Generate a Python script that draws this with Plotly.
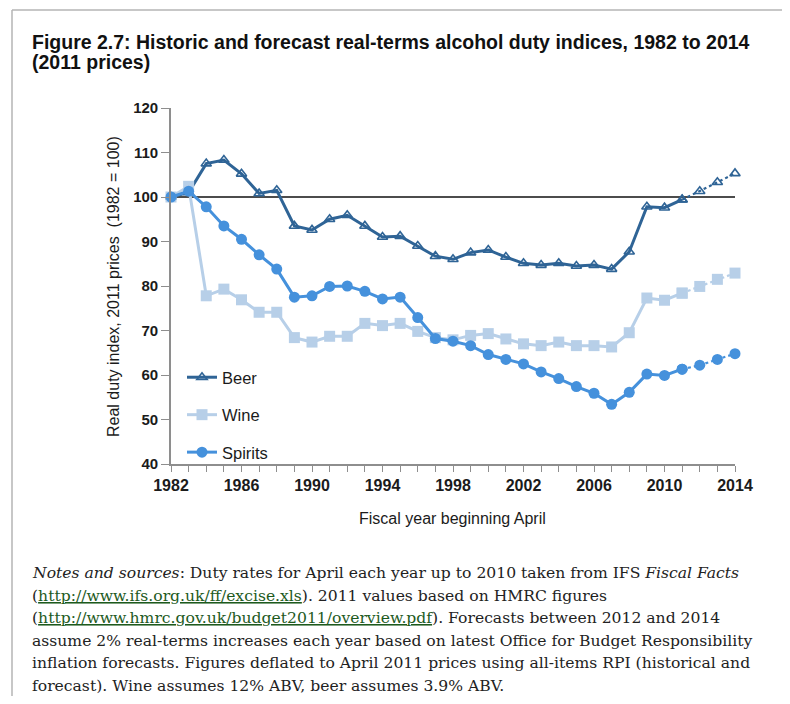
import plotly.graph_objects as go

# ---------------- data ----------------
years = list(range(1982, 2015))
beer = [100, 101.0, 107.5, 108.3, 105.2, 100.8, 101.5, 93.5, 92.6, 95.0, 95.9,
        93.5, 91.0, 91.2, 89.0, 86.7, 86.0, 87.5, 88.1, 86.5, 85.1, 84.7, 85.1,
        84.5, 84.7, 83.8, 87.7, 97.8, 97.6, 99.4, 101.3, 103.3, 105.3]
wine = [100, 102.4, 77.8, 79.3, 76.9, 74.1, 74.1, 68.4, 67.4, 68.7, 68.7,
        71.6, 71.1, 71.6, 69.8, 68.4, 67.9, 68.9, 69.3, 68.1, 67.0, 66.6, 67.4,
        66.6, 66.6, 66.3, 69.5, 77.3, 76.8, 78.4, 79.9, 81.5, 82.9]
spirits = [100, 101.3, 97.8, 93.5, 90.5, 87.0, 83.8, 77.5, 77.8, 79.9, 80.0,
           78.8, 77.1, 77.5, 72.9, 68.2, 67.6, 66.6, 64.6, 63.5, 62.5, 60.7, 59.2,
           57.4, 55.9, 53.4, 56.1, 60.2, 59.9, 61.3, 62.2, 63.5, 64.8]
last_actual_year = 2011
x_ticks = list(range(1982, 2015))
x_labels = [str(y) if (y - 1982) % 4 == 0 else "" for y in x_ticks]
y_ticks = [40, 50, 60, 70, 80, 90, 100, 110, 120]

title_lines = ["Figure 2.7: Historic and forecast real-terms alcohol duty indices, 1982 to 2014",
               "(2011 prices)"]
LINK = '<span style="color:#1d5a1d;text-decoration:underline">{}</span>'
note_lines = [
    "<i>Notes and sources</i>: Duty rates for April each year up to 2010 taken from IFS <i>Fiscal Facts</i>",
    "(" + LINK.format("http://www.ifs.org.uk/ff/excise.xls") + "). 2011 values based on HMRC figures",
    "(" + LINK.format("http://www.hmrc.gov.uk/budget2011/overview.pdf") + "). Forecasts between 2012 and 2014",
    "assume 2% real-terms increases each year based on latest Office for Budget Responsibility",
    "inflation forecasts. Figures deflated to April 2011 prices using all-items RPI (historical and",
    "forecast). Wine assumes 12% ABV, beer assumes 3.9% ABV.",
]

# ---------------- layout constants ----------------
# the page body has an 8px margin; work in screenshot coordinates and convert
OFF = 8
W, H = 782, 688
L, T = 171 - OFF, 108 - OFF
R = W - (735 - OFF)
B = H - (464 - OFF)
PW, PH = W - L - R, H - T - B


def px(xs):
    return (xs - OFF - L) / PW


def py(ys):
    return (H - B - (ys - OFF)) / PH


C_BEER = "#2f6496"
C_WINE = "#b7cfe8"
C_SPIR = "#4591dc"
TXT = "#1b1b1b"
AX = "#8e8e8e"

fig = go.Figure()

k = years.index(last_actual_year)
series = [
    ("Beer", beer, C_BEER, dict(symbol="triangle-up-open", size=9, line=dict(width=1.6, color=C_BEER))),
    ("Wine", wine, C_WINE, dict(symbol="square", size=11)),
    ("Spirits", spirits, C_SPIR, dict(symbol="circle", size=11)),
]
for name, vals, col, mk in series:
    fig.add_trace(go.Scatter(
        x=years[:k + 1], y=vals[:k + 1], mode="lines+markers", name=name,
        legendgroup=name, line=dict(color=col, width=3),
        marker=dict(color=col, **mk), cliponaxis=False))
    fig.add_trace(go.Scatter(
        x=years[k:], y=vals[k:], mode="lines+markers", name=name + " forecast",
        legendgroup=name, showlegend=False, line=dict(color=col, width=2.2, dash="dot"),
        marker=dict(color=col, **mk), cliponaxis=False))

# baseline at 100
fig.add_shape(type="line", xref="x", yref="y", x0=1982, x1=2014, y0=100, y1=100,
              line=dict(color="#111111", width=1.6), layer="below")

# page border (top and left)
fig.add_shape(type="line", xref="paper", yref="paper", x0=px(12), x1=px(800), y0=py(10), y1=py(10),
              line=dict(color="#b5b5b5", width=1.5))
fig.add_shape(type="line", xref="paper", yref="paper", x0=px(12), x1=px(12), y0=py(10), y1=py(720),
              line=dict(color="#b5b5b5", width=1.5))

annotations = []
for i, t in enumerate(title_lines):
    annotations.append(dict(text="<b>" + t + "</b>", x=px(30), y=py(42 + 20 * i), xref="paper", yref="paper",
                            xanchor="left", yanchor="middle", showarrow=False,
                            font=dict(family="Liberation Sans", size=19.5, color="#111111")))
for i, t in enumerate(note_lines):
    annotations.append(dict(text=t, x=px(30), y=py(573 + 22.6 * i), xref="paper", yref="paper",
                            xanchor="left", yanchor="middle", showarrow=False,
                            font=dict(family="DejaVu Serif", size=15.6, color="#222222")))
annotations.append(dict(text="Real duty index, 2011 prices  (1982 = 100)", x=px(113), y=py(287),
                        xref="paper", yref="paper", textangle=-90, showarrow=False,
                        xanchor="center", yanchor="middle",
                        font=dict(family="Liberation Sans", size=16, color=TXT)))
annotations.append(dict(text="Fiscal year beginning April", x=px(452), y=py(518),
                        xref="paper", yref="paper", showarrow=False,
                        xanchor="center", yanchor="middle",
                        font=dict(family="Liberation Sans", size=16, color=TXT)))

fig.update_layout(
    width=W, height=H, margin=dict(l=L, r=R, t=T, b=B),
    paper_bgcolor="white", plot_bgcolor="white",
    showlegend=True,
    legend=dict(x=px(182), y=py(360), xanchor="left", yanchor="top",
                bgcolor="rgba(0,0,0,0)", tracegroupgap=13,
                font=dict(family="Liberation Sans", size=16.5, color=TXT),
                itemwidth=30),
    annotations=annotations,
    xaxis=dict(range=[1982, 2014], tickmode="array", tickvals=x_ticks, ticktext=x_labels,
               showgrid=False, zeroline=False, showline=True, linecolor=AX, linewidth=1.6,
               ticks="outside", ticklen=6, tickcolor=AX, tickwidth=1.4,
               tickfont=dict(family="Liberation Sans", size=16, color=TXT, weight="bold")),
    yaxis=dict(range=[40, 120], tickmode="array", tickvals=y_ticks,
               showgrid=False, zeroline=False, showline=True, linecolor=AX, linewidth=1.6,
               ticks="outside", ticklen=8, tickcolor=AX, tickwidth=1.4,
               tickfont=dict(family="Liberation Sans", size=15, color=TXT, weight="bold")),
)

fig.write_html("out.html")
